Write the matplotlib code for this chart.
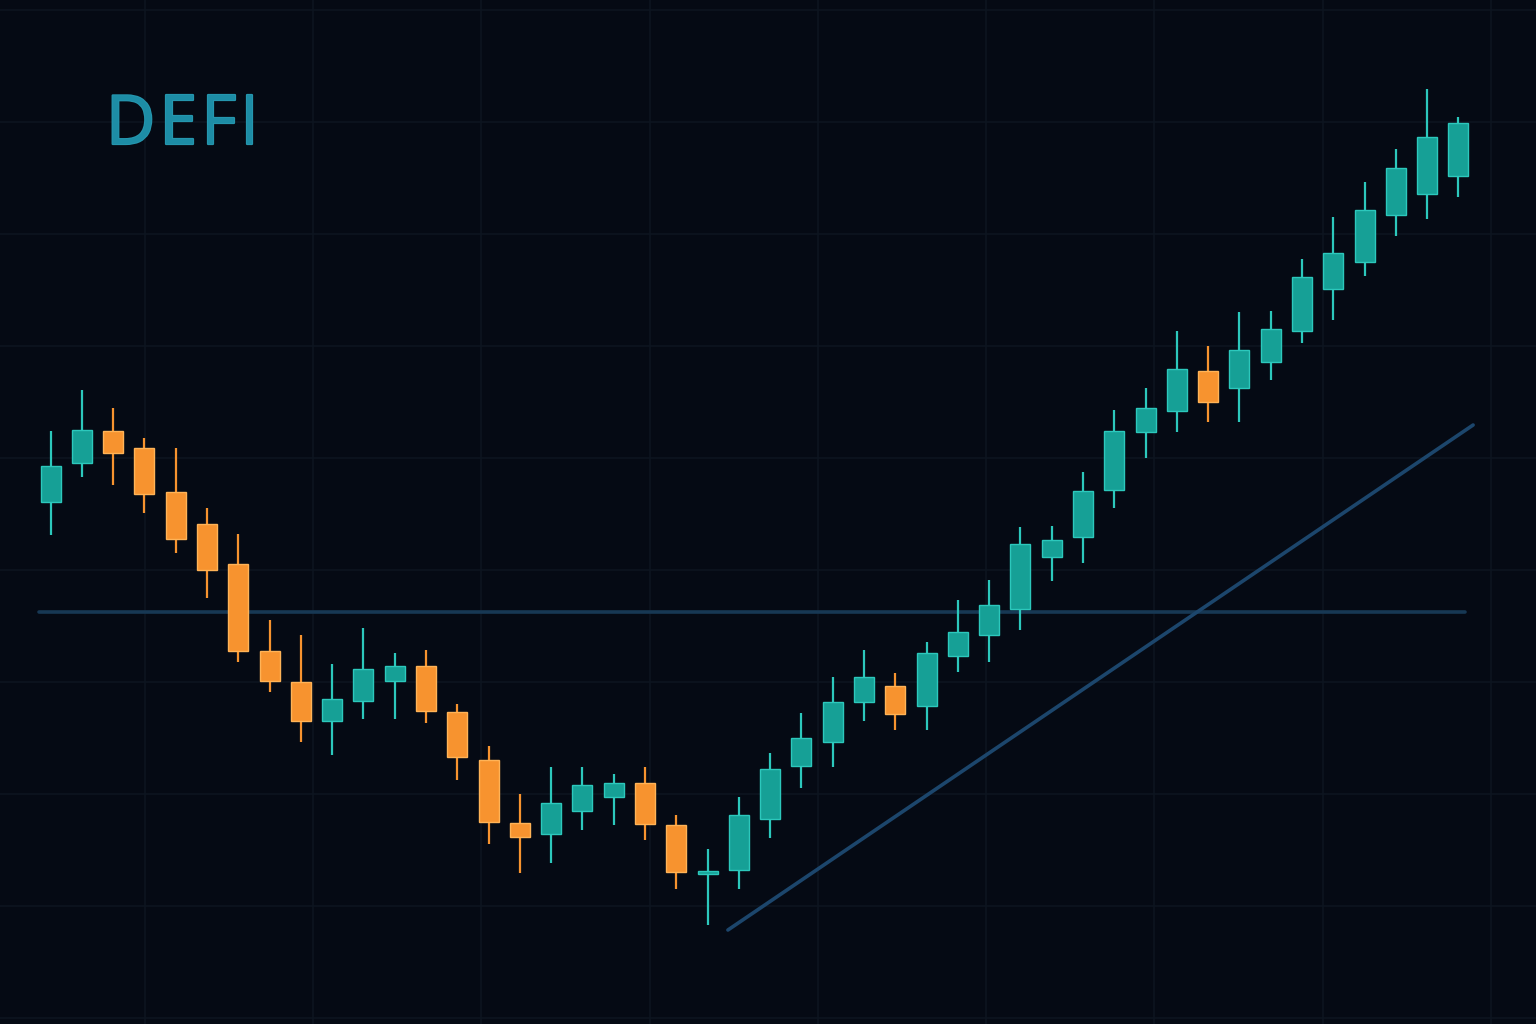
import numpy as np
import matplotlib
matplotlib.use('Agg')
import matplotlib.pyplot as plt
import matplotlib.patheffects as pe

# OHLC (arbitrary price units)
opens = [52.2, 56.1, 59.3, 57.6, 53.2, 50.0, 46.0, 37.3, 34.2, 30.3,
         32.3, 34.3, 35.8, 31.2, 26.4, 20.1, 19.0, 21.3, 22.7, 24.1,
         19.9, 15.0, 15.4, 20.5, 25.8, 28.2, 32.2, 33.8, 31.8, 36.8,
         38.9, 41.5, 46.7, 48.7, 53.4, 59.2, 61.3, 65.3, 63.6, 66.2,
         69.3, 73.5, 76.2, 80.9, 83.0, 84.8]
highs = [59.3, 63.4, 61.6, 58.6, 57.6, 51.6, 49.0, 40.4, 38.9, 36.0,
         39.6, 37.1, 37.4, 32.0, 27.8, 23.0, 25.7, 25.7, 25.0, 25.7,
         20.9, 17.5, 22.7, 27.1, 31.1, 34.7, 37.4, 35.1, 38.2, 42.4,
         44.4, 49.7, 49.8, 55.2, 61.4, 63.6, 69.3, 67.8, 71.2, 71.3,
         76.5, 80.7, 84.2, 87.5, 93.5, 90.7]
lows = [48.9, 54.7, 53.9, 51.1, 47.1, 42.6, 36.2, 33.2, 28.2, 26.9,
        30.5, 30.5, 30.1, 24.4, 18.0, 15.1, 16.1, 19.4, 19.9, 18.4,
        13.5, 9.9, 13.5, 18.6, 23.6, 25.7, 30.3, 29.4, 29.4, 35.2,
        36.2, 39.4, 44.3, 46.1, 51.6, 56.6, 59.2, 60.2, 60.2, 64.4,
        68.1, 70.4, 74.8, 78.8, 80.5, 82.7]
closes = [55.8, 59.4, 57.1, 53.0, 48.5, 45.4, 37.3, 34.3, 30.3, 32.5,
          35.5, 35.8, 31.3, 26.7, 20.2, 18.7, 22.1, 23.9, 24.1, 20.0,
          15.2, 15.2, 20.9, 25.5, 28.6, 32.2, 34.7, 31.0, 37.1, 39.2,
          41.9, 48.0, 48.4, 53.3, 59.3, 61.6, 65.5, 62.2, 67.4, 69.5,
          74.7, 77.1, 81.4, 85.6, 88.7, 90.1]

support_level = 41.2
support_x = [-0.37, 45.21]
trend_x = [21.65, 45.47]
trend_y = [9.4, 59.9]

o = np.array(opens)
h = np.array(highs)
l = np.array(lows)
c = np.array(closes)
idx = np.arange(len(o))
up = c >= o

bg = '#050a14'
teal = '#16a096'
teal_edge = '#2cc8bc'
orange = '#f7932f'
orange_edge = '#ffb357'
grid_col = '#0d1520'

fig = plt.figure(figsize=(15.36, 10.24), dpi=100, facecolor=bg)
ax = fig.add_axes([0, 0, 1, 1])
ax.set_facecolor(bg)

# faint grid
for gx in 3.017 + 5.378 * np.arange(9):
    ax.axvline(gx, color=grid_col, lw=1.1, zorder=0)
for gy in 0.6 + 11.2 * np.arange(10):
    ax.axhline(gy, color=grid_col, lw=1.1, zorder=0)

# support + trend lines
ax.plot(support_x, [support_level, support_level], color='#173854', lw=2.6,
        solid_capstyle='round', zorder=1)
ax.plot(trend_x, trend_y, color='#1c466c', lw=2.6, solid_capstyle='round', zorder=1)

# wicks
ax.vlines(idx[up], l[up], h[up], color=teal_edge, lw=1.6, zorder=2)
ax.vlines(idx[~up], l[~up], h[~up], color=orange, lw=1.6, zorder=2)

# bodies
body_lo = np.minimum(o, c)
body_h = np.maximum(np.abs(c - o), 0.35)
ax.bar(idx[up], body_h[up], bottom=body_lo[up], width=0.64, color=teal,
       edgecolor=teal_edge, linewidth=1.0, zorder=3)
ax.bar(idx[~up], body_h[~up], bottom=body_lo[~up], width=0.64, color=orange,
       edgecolor=orange_edge, linewidth=1.0, zorder=3)

ax.set_xlim(-1.617, 47.48)
ax.set_ylim(0, 102.4)
ax.axis('off')

# title, letter-spaced a bit
renderer = fig.canvas.get_renderer()
x_px = 106
for ch in 'DEFI':
    t = fig.text(x_px / 1536, 1 - 144 / 1024, ch, fontsize=49, family='Open Sans',
                 color='#1d8da6', va='baseline', ha='left', zorder=4,
                 path_effects=[pe.withStroke(linewidth=1.6, foreground='#2596ae')])
    bb = t.get_window_extent(renderer)
    x_px = bb.x1 + 4

fig.savefig('out.png', dpi=100, facecolor=bg)
